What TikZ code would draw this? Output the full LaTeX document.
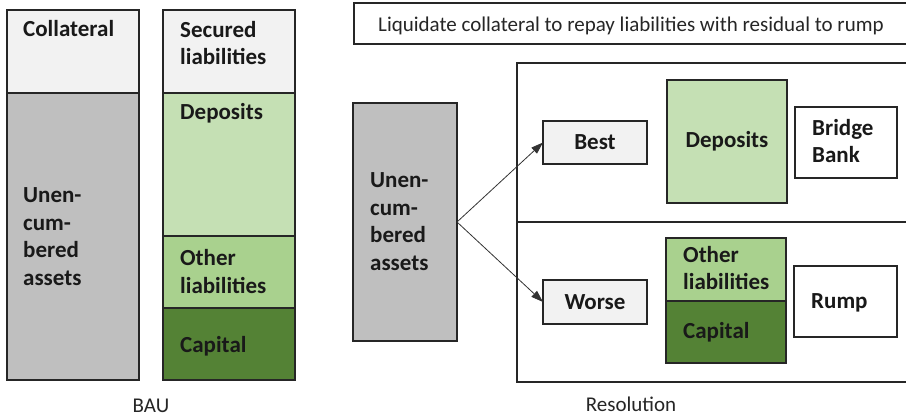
\documentclass[tikz,border=0pt]{standalone}
\usepackage{fontspec}
\setmainfont{Carlito}
\usetikzlibrary{arrows.meta}
\definecolor{lightgrey}{HTML}{F2F2F2}
\definecolor{midgrey}{HTML}{BFBFBF}
\definecolor{depgreen}{HTML}{C5E0B4}
\definecolor{othgreen}{HTML}{A9D18E}
\definecolor{capgreen}{HTML}{548235}
\begin{document}
\begin{tikzpicture}[x=1pt,y=-1pt,
  cell/.style={draw=black!85, line width=1.4pt, anchor=north west, inner sep=0pt, outer sep=0pt},
  lbl/.style={font=\fontsize{23}{27.5}\selectfont\bfseries, align=left, inner sep=0pt, text=black!90},
  captext/.style={font=\fontsize{21}{25}\selectfont, inner sep=0pt, text=black!85},
  arr/.style={draw=black!80, line width=0.8pt, -{Triangle[length=12pt,width=8pt]}}]
\useasboundingbox[fill=white] (0,0) rectangle (906,417);
% BAU
\node[cell, fill=lightgrey, minimum width=132pt, minimum height=83pt] (coll) at (7,10) {};
\node[cell, fill=midgrey, minimum width=132pt, minimum height=287pt] (unencA) at (7,93) {};
\node[cell, fill=lightgrey, minimum width=132pt, minimum height=83pt] (secured) at (163,10) {};
\node[cell, fill=depgreen, minimum width=132pt, minimum height=143pt] (depA) at (163,93) {};
\node[cell, fill=othgreen, minimum width=132pt, minimum height=72pt] (othA) at (163,236) {};
\node[cell, fill=capgreen, minimum width=132pt, minimum height=72pt] (capA) at (163,308) {};
\node[lbl, anchor=base west] (tcoll) at (23,37) {Collateral};
\node[lbl, anchor=base west] (tsec) at (180,65) {Secured\\liabilities};
\node[lbl, anchor=base west] (tdepA) at (180,120) {Deposits};
\node[lbl, anchor=base west] (tunA) at (23,285) {Unen-\\cum-\\bered\\assets};
\node[lbl, anchor=base west] (tothA) at (180,293) {Other\\liabilities};
\node[lbl, anchor=base west] (tcapA) at (180,352) {Capital};
\node[captext, anchor=base] (bau) at (151,412) {BAU};
% Resolution
\node[cell, minimum width=560pt, minimum height=41pt] (topbox) at (354,3) {};
\node[captext, anchor=base west] (ttop) at (378,32) {Liquidate collateral to repay liabilities with residual to rump};
\node[cell, minimum width=400pt, minimum height=159pt] (resTop) at (517,63) {};
\node[cell, minimum width=400pt, minimum height=160pt] (resBot) at (517,222) {};
\node[cell, fill=midgrey, minimum width=104pt, minimum height=238pt] (unencB) at (353,103) {};
\node[cell, fill=lightgrey, minimum width=104pt, minimum height=43pt] (best) at (543,121) {};
\node[cell, fill=lightgrey, minimum width=104pt, minimum height=44pt] (worse) at (543,280) {};
\node[cell, fill=depgreen, minimum width=120pt, minimum height=123pt] (depB) at (667,80) {};
\node[cell, fill=white, minimum width=102pt, minimum height=71pt] (bridge) at (795,107) {};
\node[cell, fill=othgreen, minimum width=120pt, minimum height=63pt] (othB) at (666,238) {};
\node[cell, fill=capgreen, minimum width=120pt, minimum height=62pt] (capB) at (666,301) {};
\node[cell, fill=white, minimum width=103pt, minimum height=71pt] (rump) at (794,266) {};
\node[lbl, anchor=base west] (tunB) at (370,270) {Unen-\\cum-\\bered\\assets};
\node[lbl] (tbest) at (best.center) {Best};
\node[lbl] (tworse) at (worse.center) {Worse};
\node[lbl] (tdepB) at (depB.center) {Deposits};
\node[lbl, anchor=base west] (tbridge) at (812,163) {Bridge\\Bank};
\node[lbl, anchor=base west] (tothB) at (683,290) {Other\\liabilities};
\node[lbl, anchor=base west] (tcapB) at (683,338) {Capital};
\node[lbl, anchor=base west] (trump) at (811,308) {Rump};
\node[captext, anchor=base] (resol) at (631,411) {Resolution};
\draw[arr] (unencB.east) -- (best.west);
\draw[arr] (unencB.east) -- (worse.west);
\end{tikzpicture}
\end{document}
